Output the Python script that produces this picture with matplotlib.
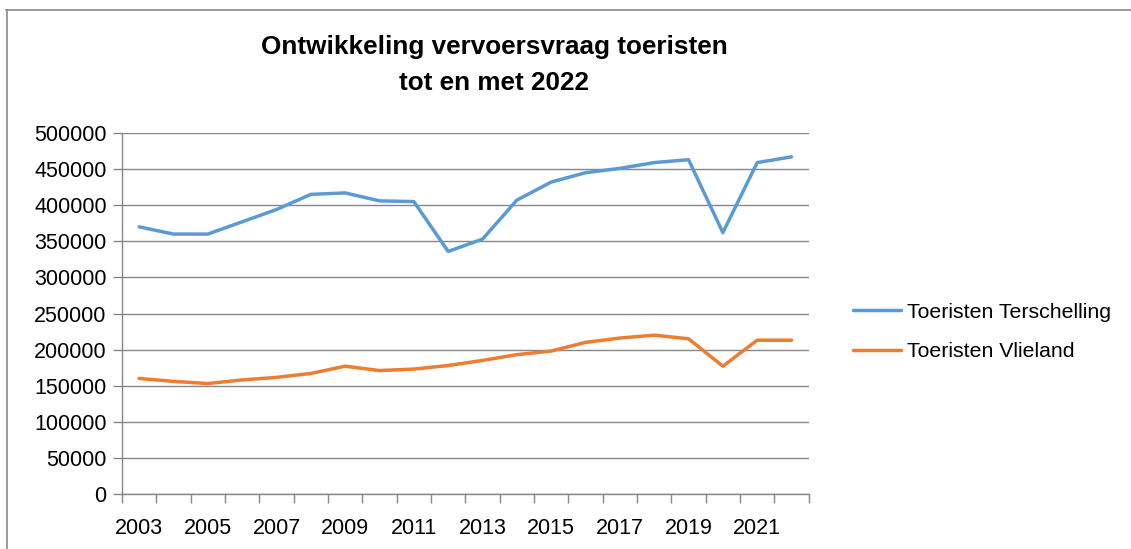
import matplotlib
matplotlib.use("Agg")
import matplotlib.pyplot as plt
import numpy as np
from matplotlib.lines import Line2D

years = list(range(2003, 2023))
terschelling = [370000, 360000, 360000, 377000, 394000, 415000, 417000, 406000, 405000, 336000,
                353000, 407000, 432000, 445000, 451000, 459000, 463000, 362000, 459000, 467000]
vlieland = [160000, 156000, 153000, 158000, 161500, 167000, 177000, 171000, 173000, 178000,
            185000, 193000, 198000, 210000, 216000, 220000, 215000, 177000, 213000, 213000]

plt.rcParams['font.family'] = ['Liberation Sans', 'DejaVu Sans']

fig = plt.figure(figsize=(11.31, 5.49), dpi=100)
ax = fig.add_axes([122 / 1131, 1 - 494 / 549, (808.7 - 122) / 1131, (494 - 133) / 549])

x = np.arange(len(years))
ax.plot(x, terschelling, color='#5B9BD5', lw=2.5, label='Toeristen Terschelling', solid_capstyle='round')
ax.plot(x, vlieland, color='#ED7D31', lw=2.5, label='Toeristen Vlieland', solid_capstyle='round')

ax.set_xlim(-0.5, len(years) - 0.5)
ax.set_ylim(0, 500000)
ax.set_yticks(np.arange(0, 500001, 50000))
ax.set_yticklabels([str(v) for v in range(0, 500001, 50000)])

# labels on every other year, tick marks on the category boundaries
ax.set_xticks(x[::2])
ax.set_xticklabels([str(y) for y in years[::2]])
ax.set_xticks(np.arange(-0.5, len(years), 1), minor=True)
ax.tick_params(axis='x', which='major', length=0, pad=17, labelsize=15.5, colors='#000000')
ax.tick_params(axis='x', which='minor', length=6.5, width=1, color='#868686')
ax.tick_params(axis='y', length=6.5, width=1, color='#868686', pad=4.5, labelsize=15.5)

ax.grid(axis='y', color='#868686', lw=1)
ax.set_axisbelow(True)
for s in ['top', 'right']:
    ax.spines[s].set_visible(False)
for s in ['left', 'bottom']:
    ax.spines[s].set_color('#868686')
    ax.spines[s].set_linewidth(1)

fig.text(494 / 1131, 1 - 65 / 549, 'Ontwikkeling vervoersvraag toeristen\ntot en met 2022',
         ha='center', va='center', fontsize=18.8, fontweight='bold', linespacing=1.6)

ax.legend(loc='center left', bbox_to_anchor=(844 / 1131, 1 - 332 / 549), bbox_transform=fig.transFigure,
          frameon=False, fontsize=15.3, handlelength=2.3, handletextpad=0.25, labelspacing=0.95,
          borderaxespad=0)

# chart frame (top and left edges visible)
fig.add_artist(Line2D([6 / 1131, 1], [1 - 10 / 549, 1 - 10 / 549], color='#8a8a8a', lw=1.2,
                      transform=fig.transFigure))
fig.add_artist(Line2D([7 / 1131, 7 / 1131], [0, 1 - 10 / 549], color='#8a8a8a', lw=1.2,
                      transform=fig.transFigure))

fig.savefig('out.png', dpi=100)
